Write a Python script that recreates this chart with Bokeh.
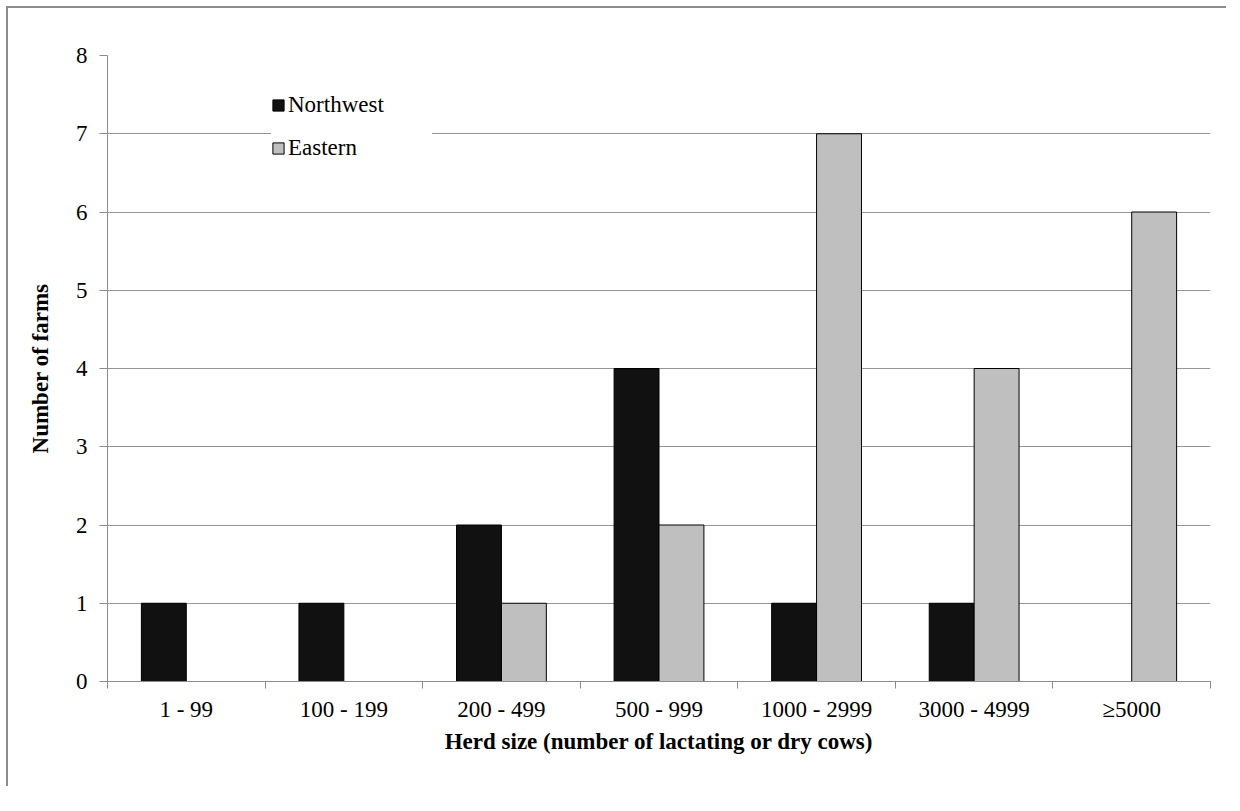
from bokeh.plotting import figure
from bokeh.models import (Range1d, FixedTicker, Legend, LegendItem, ColumnDataSource)
from bokeh.transform import dodge
from bokeh.embed import file_html
from bokeh.resources import INLINE

categories = ["1 - 99", "100 - 199", "200 - 499", "500 - 999",
              "1000 - 2999", "3000 - 4999", "\u22655000"]
northwest = [1, 1, 2, 4, 1, 1, 0]
eastern = [0, 0, 1, 2, 7, 4, 6]
y_ticks = [0, 1, 2, 3, 4, 5, 6, 7, 8]
series_names = ["Northwest", "Eastern"]

FONT = "Liberation Serif"
AXIS_GRAY = "#8c8c8c"
GRID_GRAY = "#959595"

n = len(categories)
centres = [i + 0.5 for i in range(n)]
src = ColumnDataSource(dict(pos=centres, cat=categories, nw=northwest, ea=eastern))

W, H = 1220, 780
p = figure(width=W, height=H,
           x_range=Range1d(0, n),
           y_range=Range1d(0, 8),
           output_backend="svg", toolbar_location=None,
           min_border_left=99, min_border_right=18,
           min_border_top=47, min_border_bottom=107)
p.styles = {"margin": "8px 0px 0px 8px",
            "box-shadow": "-2px -2px 0px 0px #8c8c8c"}
p.outline_line_color = None
p.background_fill_color = "white"
p.border_fill_color = "white"

bar_w = 0.285
r_nw = p.vbar(x=dodge("pos", -bar_w / 2), top="nw", width=bar_w,
              source=src, fill_color="#111111", line_color="#000000", line_width=1)
r_ea = p.vbar(x=dodge("pos", bar_w / 2), top="ea", width=bar_w,
              source=src, fill_color="#bfbfbf", line_color="#000000", line_width=1)

# y axis
ya = p.yaxis[0]
ya.ticker = FixedTicker(ticks=y_ticks)
ya.axis_label = "Number of farms"
ya.axis_label_text_font = FONT
ya.axis_label_text_font_style = "bold"
ya.axis_label_text_font_size = "23px"
ya.axis_label_text_color = "#000000"
ya.axis_label_standoff = 20
ya.major_label_text_font = FONT
ya.major_label_text_font_size = "23px"
ya.major_label_text_color = "#000000"
ya.major_label_standoff = 12
ya.major_tick_out = 8
ya.major_tick_in = 0
ya.minor_tick_line_color = None
ya.axis_line_color = AXIS_GRAY
ya.major_tick_line_color = AXIS_GRAY

p.ygrid.ticker = FixedTicker(ticks=y_ticks)
p.ygrid.grid_line_color = GRID_GRAY
p.xgrid.visible = False

# x axis: labels at category centres, tick marks at category boundaries
xa = p.xaxis[0]
xa.ticker = FixedTicker(ticks=centres, minor_ticks=list(range(n + 1)))
xa.major_label_overrides = {c: lab for c, lab in zip(centres, categories)}
xa.axis_label = "Herd size (number of lactating or dry cows)"
xa.axis_label_text_font = FONT
xa.axis_label_text_font_style = "bold"
xa.axis_label_text_font_size = "23px"
xa.axis_label_text_color = "#000000"
xa.axis_label_standoff = 4
xa.major_label_text_font = FONT
xa.major_label_text_font_size = "23px"
xa.major_label_text_color = "#000000"
xa.major_label_standoff = 8
xa.major_tick_line_color = None
xa.major_tick_out = 0
xa.major_tick_in = 0
xa.minor_tick_line_color = AXIS_GRAY
xa.minor_tick_out = 7
xa.minor_tick_in = 0
xa.axis_line_color = AXIS_GRAY

legend = Legend(items=[LegendItem(label=series_names[0], renderers=[r_nw]),
                       LegendItem(label=series_names[1], renderers=[r_ea])],
                location=(164, 520),
                glyph_width=14, glyph_height=14, label_standoff=3,
                label_width=144, spacing=17, padding=0,
                label_text_font=FONT, label_text_font_size="23px",
                label_text_color="#000000",
                background_fill_color="white", background_fill_alpha=1.0,
                border_line_color=None)
p.add_layout(legend)

open("out.html", "w").write(file_html(p, INLINE))
